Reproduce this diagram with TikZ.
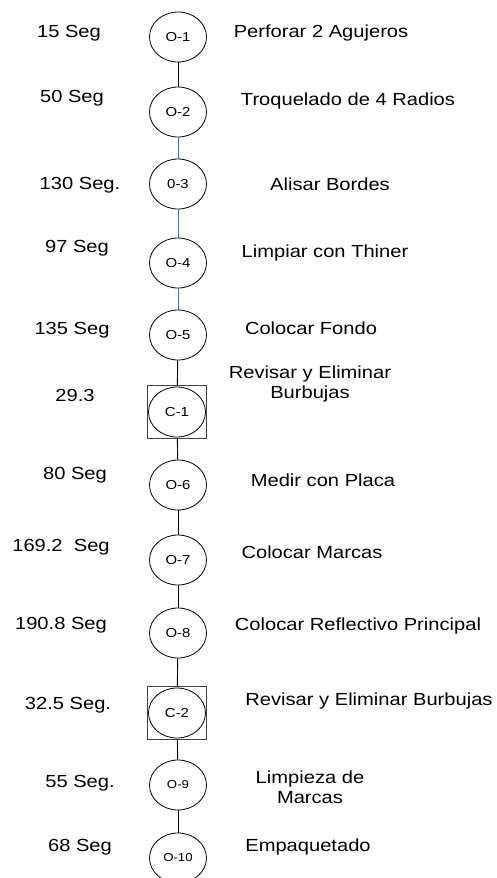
\documentclass[tikz,border=0pt]{standalone}
\usepackage{fontspec}
\setmainfont[FakeStretch=1.15]{Liberation Sans}
\usepackage{tikz}
\usetikzlibrary{shapes.geometric}
\definecolor{linkblue}{RGB}{68,114,196}

\begin{document}
\begin{tikzpicture}[x=1pt,y=-1pt,
  op/.style={draw,ellipse,line width=0.8pt,minimum width=57pt,
    minimum height=50pt,inner sep=0pt,font=\fontsize{13}{15}\selectfont},
  insp/.style={draw=black!75,line width=0.8pt,minimum width=59pt,
    minimum height=53pt,inner sep=0pt},
  tlabel/.style={font=\fontsize{17.5}{20}\selectfont},
  dlabel/.style={align=center,font=\fontsize{17.5}{20}\selectfont},
  link/.style={line width=0.9pt},
  bluelink/.style={link,draw=linkblue}]
\useasboundingbox (0,0) rectangle (497,878);
% operations and inspections
\node[op] (o1) at (178,37) {O-1};
\node[op] (o2) at (178,112) {O-2};
\node[op] (o3) at (178,184) {0-3};
\node[op] (o4) at (178,263) {O-4};
\node[op] (o5) at (178,335) {O-5};
\node[insp] (c1box) at (177,412) {};
\node[op] (c1) at (177,412) {C-1};
\node[op] (o6) at (178,485) {O-6};
\node[op] (o7) at (178,560) {O-7};
\node[op] (o8) at (178,633) {O-8};
\node[insp] (c2box) at (177,713) {};
\node[op] (c2) at (177,713) {C-2};
\node[op,font=\fontsize{11.5}{13}\selectfont] (o9) at (178,785) {O-9};
\node[op,font=\fontsize{11.5}{13}\selectfont] (o10) at (178,858) {O-10};
% times
\node[tlabel] (t1) at (69,33) {15 Seg};
\node[tlabel] (t2) at (72,98) {50 Seg};
\node[tlabel] (t3) at (80,185) {130 Seg.};
\node[tlabel] (t4) at (77,248) {97 Seg};
\node[tlabel] (t5) at (72,330) {135 Seg};
\node[tlabel] (t6) at (75,395) {29.3};
\node[tlabel] (t7) at (75,475) {80 Seg};
\node[tlabel] (t8) at (61,547) {169.2\ \ Seg};
\node[tlabel] (t9) at (61,625) {190.8 Seg};
\node[tlabel] (t10) at (68,705) {32.5 Seg.};
\node[tlabel] (t11) at (80,783) {55 Seg.};
\node[tlabel] (t12) at (80,847) {68 Seg};
% activities
\node[dlabel] (d1) at (321,33) {Perforar 2 Agujeros};
\node[dlabel] (d2) at (348,101) {Troquelado de 4 Radios};
\node[dlabel] (d3) at (330,184) {Alisar Bordes};
\node[dlabel] (d4) at (325,253) {Limpiar con Thiner};
\node[dlabel] (d5) at (311,328) {Colocar Fondo};
\node[dlabel] (d6) at (310,384) {Revisar y Eliminar\\Burbujas};
\node[dlabel] (d7) at (323,480) {Medir con Placa};
\node[dlabel] (d8) at (312,552) {Colocar Marcas};
\node[dlabel] (d9) at (358,626) {Colocar Reflectivo Principal};
\node[dlabel] (d10) at (369,701) {Revisar y Eliminar Burbujas};
\node[dlabel] (d11) at (310,787) {Limpieza de\\Marcas};
\node[dlabel] (d12) at (308,847) {Empaquetado};
% connectors
\draw[link] (o1) -- (o2);
\draw[bluelink] (o2) -- (o3);
\draw[bluelink] (o3) -- (o4);
\draw[bluelink] (o4) -- (o5);
\draw[link] (o5) -- (c1box);
\draw[link] (c1box) -- (o6);
\draw[link] (o6) -- (o7);
\draw[link] (o7) -- (o8);
\draw[link] (o8) -- (c2box);
\draw[link] (c2box) -- (o9);
\draw[link] (o9) -- (o10);
\end{tikzpicture}
\end{document}
